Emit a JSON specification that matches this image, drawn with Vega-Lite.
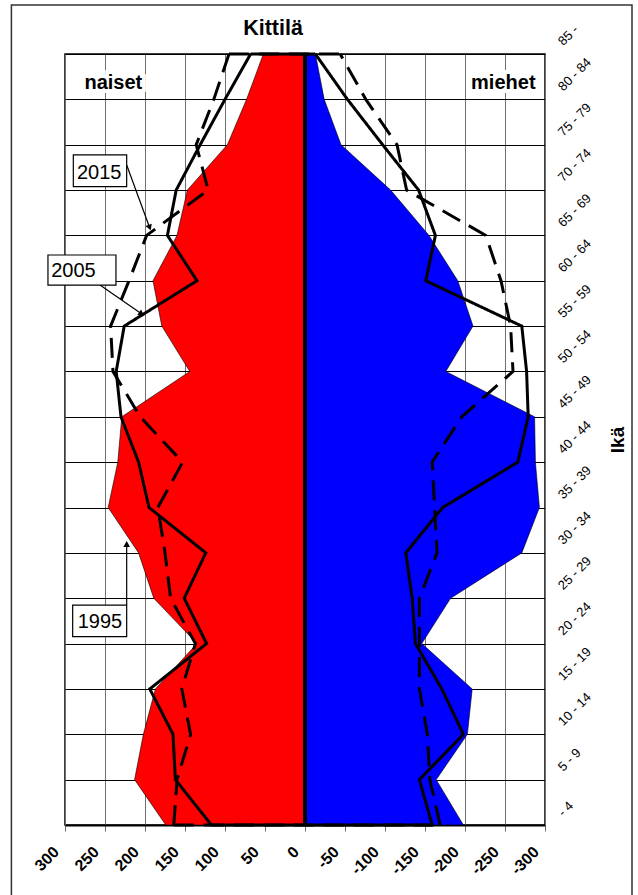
{
  "$schema": "https://vega.github.io/schema/vega-lite/v6.json",
  "width": 480,
  "height": 771,
  "autosize": {"type": "none"},
  "padding": {"left": 65, "top": 54, "right": 93, "bottom": 70},
  "background": "white",
  "title": {"text": "Kittilä", "fontSize": 21.5, "fontWeight": "bold", "font": "Liberation Sans", "color": "#000", "anchor": "middle", "frame": "group", "dx": -32, "dy": 21, "baseline": "alphabetic", "offset": -31},
  "config": {
    "font": "Liberation Sans",
    "view": {"stroke": "#000", "strokeWidth": 1.5}
  },
  "datasets": {
    "pop": [
      {"year": 1995, "sex": "naiset", "age": 0, "value": 174},
      {"year": 1995, "sex": "naiset", "age": 5, "value": 213},
      {"year": 1995, "sex": "naiset", "age": 10, "value": 202},
      {"year": 1995, "sex": "naiset", "age": 15, "value": 187},
      {"year": 1995, "sex": "naiset", "age": 20, "value": 135},
      {"year": 1995, "sex": "naiset", "age": 25, "value": 189},
      {"year": 1995, "sex": "naiset", "age": 30, "value": 208},
      {"year": 1995, "sex": "naiset", "age": 35, "value": 246},
      {"year": 1995, "sex": "naiset", "age": 40, "value": 234},
      {"year": 1995, "sex": "naiset", "age": 45, "value": 229},
      {"year": 1995, "sex": "naiset", "age": 50, "value": 144},
      {"year": 1995, "sex": "naiset", "age": 55, "value": 179},
      {"year": 1995, "sex": "naiset", "age": 60, "value": 190},
      {"year": 1995, "sex": "naiset", "age": 65, "value": 160},
      {"year": 1995, "sex": "naiset", "age": 70, "value": 147},
      {"year": 1995, "sex": "naiset", "age": 75, "value": 97},
      {"year": 1995, "sex": "naiset", "age": 80, "value": 73},
      {"year": 1995, "sex": "naiset", "age": 85, "value": 52},
      {"year": 1995, "sex": "miehet", "age": 0, "value": -198},
      {"year": 1995, "sex": "miehet", "age": 5, "value": -164},
      {"year": 1995, "sex": "miehet", "age": 10, "value": -203},
      {"year": 1995, "sex": "miehet", "age": 15, "value": -209},
      {"year": 1995, "sex": "miehet", "age": 20, "value": -146},
      {"year": 1995, "sex": "miehet", "age": 25, "value": -182},
      {"year": 1995, "sex": "miehet", "age": 30, "value": -271},
      {"year": 1995, "sex": "miehet", "age": 35, "value": -293},
      {"year": 1995, "sex": "miehet", "age": 40, "value": -288},
      {"year": 1995, "sex": "miehet", "age": 45, "value": -287},
      {"year": 1995, "sex": "miehet", "age": 50, "value": -176},
      {"year": 1995, "sex": "miehet", "age": 55, "value": -210},
      {"year": 1995, "sex": "miehet", "age": 60, "value": -191},
      {"year": 1995, "sex": "miehet", "age": 65, "value": -155},
      {"year": 1995, "sex": "miehet", "age": 70, "value": -107},
      {"year": 1995, "sex": "miehet", "age": 75, "value": -45},
      {"year": 1995, "sex": "miehet", "age": 80, "value": -24},
      {"year": 1995, "sex": "miehet", "age": 85, "value": -13},
      {"year": 2005, "sex": "naiset", "age": 0, "value": 117},
      {"year": 2005, "sex": "naiset", "age": 5, "value": 162},
      {"year": 2005, "sex": "naiset", "age": 10, "value": 165},
      {"year": 2005, "sex": "naiset", "age": 15, "value": 194},
      {"year": 2005, "sex": "naiset", "age": 20, "value": 123},
      {"year": 2005, "sex": "naiset", "age": 25, "value": 151},
      {"year": 2005, "sex": "naiset", "age": 30, "value": 124},
      {"year": 2005, "sex": "naiset", "age": 35, "value": 195},
      {"year": 2005, "sex": "naiset", "age": 40, "value": 208},
      {"year": 2005, "sex": "naiset", "age": 45, "value": 230},
      {"year": 2005, "sex": "naiset", "age": 50, "value": 236},
      {"year": 2005, "sex": "naiset", "age": 55, "value": 226},
      {"year": 2005, "sex": "naiset", "age": 60, "value": 135},
      {"year": 2005, "sex": "naiset", "age": 65, "value": 172},
      {"year": 2005, "sex": "naiset", "age": 70, "value": 161},
      {"year": 2005, "sex": "naiset", "age": 75, "value": 131},
      {"year": 2005, "sex": "naiset", "age": 80, "value": 100},
      {"year": 2005, "sex": "naiset", "age": 85, "value": 68},
      {"year": 2005, "sex": "miehet", "age": 0, "value": -159},
      {"year": 2005, "sex": "miehet", "age": 5, "value": -143},
      {"year": 2005, "sex": "miehet", "age": 10, "value": -198},
      {"year": 2005, "sex": "miehet", "age": 15, "value": -171},
      {"year": 2005, "sex": "miehet", "age": 20, "value": -138},
      {"year": 2005, "sex": "miehet", "age": 25, "value": -134},
      {"year": 2005, "sex": "miehet", "age": 30, "value": -126},
      {"year": 2005, "sex": "miehet", "age": 35, "value": -172},
      {"year": 2005, "sex": "miehet", "age": 40, "value": -266},
      {"year": 2005, "sex": "miehet", "age": 45, "value": -279},
      {"year": 2005, "sex": "miehet", "age": 50, "value": -277},
      {"year": 2005, "sex": "miehet", "age": 55, "value": -271},
      {"year": 2005, "sex": "miehet", "age": 60, "value": -151},
      {"year": 2005, "sex": "miehet", "age": 65, "value": -163},
      {"year": 2005, "sex": "miehet", "age": 70, "value": -142},
      {"year": 2005, "sex": "miehet", "age": 75, "value": -97},
      {"year": 2005, "sex": "miehet", "age": 80, "value": -53},
      {"year": 2005, "sex": "miehet", "age": 85, "value": -13},
      {"year": 2015, "sex": "naiset", "age": 0, "value": 164},
      {"year": 2015, "sex": "naiset", "age": 5, "value": 160},
      {"year": 2015, "sex": "naiset", "age": 10, "value": 143},
      {"year": 2015, "sex": "naiset", "age": 15, "value": 154},
      {"year": 2015, "sex": "naiset", "age": 20, "value": 137},
      {"year": 2015, "sex": "naiset", "age": 25, "value": 168},
      {"year": 2015, "sex": "naiset", "age": 30, "value": 175},
      {"year": 2015, "sex": "naiset", "age": 35, "value": 184},
      {"year": 2015, "sex": "naiset", "age": 40, "value": 153},
      {"year": 2015, "sex": "naiset", "age": 45, "value": 206},
      {"year": 2015, "sex": "naiset", "age": 50, "value": 240},
      {"year": 2015, "sex": "naiset", "age": 55, "value": 243},
      {"year": 2015, "sex": "naiset", "age": 60, "value": 220},
      {"year": 2015, "sex": "naiset", "age": 65, "value": 198},
      {"year": 2015, "sex": "naiset", "age": 70, "value": 121},
      {"year": 2015, "sex": "naiset", "age": 75, "value": 136},
      {"year": 2015, "sex": "naiset", "age": 80, "value": 114},
      {"year": 2015, "sex": "naiset", "age": 85, "value": 95},
      {"year": 2015, "sex": "miehet", "age": 0, "value": -169},
      {"year": 2015, "sex": "miehet", "age": 5, "value": -156},
      {"year": 2015, "sex": "miehet", "age": 10, "value": -153},
      {"year": 2015, "sex": "miehet", "age": 15, "value": -143},
      {"year": 2015, "sex": "miehet", "age": 20, "value": -143},
      {"year": 2015, "sex": "miehet", "age": 25, "value": -143},
      {"year": 2015, "sex": "miehet", "age": 30, "value": -165},
      {"year": 2015, "sex": "miehet", "age": 35, "value": -162},
      {"year": 2015, "sex": "miehet", "age": 40, "value": -159},
      {"year": 2015, "sex": "miehet", "age": 45, "value": -196},
      {"year": 2015, "sex": "miehet", "age": 50, "value": -260},
      {"year": 2015, "sex": "miehet", "age": 55, "value": -257},
      {"year": 2015, "sex": "miehet", "age": 60, "value": -245},
      {"year": 2015, "sex": "miehet", "age": 65, "value": -226},
      {"year": 2015, "sex": "miehet", "age": 70, "value": -127},
      {"year": 2015, "sex": "miehet", "age": 75, "value": -115},
      {"year": 2015, "sex": "miehet", "age": 80, "value": -76},
      {"year": 2015, "sex": "miehet", "age": 85, "value": -44}
    ],
    "notes": [
      {"label": "2015", "bx1": 289.6, "bx2": 222.9, "by1": 73.87, "by2": 70.37, "tx": 257.3, "ty": 71.2, "ax1": 222.9, "ay1": 72.76, "ax2": 194.6, "ay2": 65.96},
      {"label": "2005", "bx1": 321.3, "bx2": 236.3, "by1": 62.84, "by2": 59.53, "tx": 289.4, "ty": 60.38, "ax1": 256.3, "ay1": 59.53, "ax2": 205.3, "ay2": 56.41},
      {"label": "1995", "bx1": 290.4, "bx2": 222.9, "by1": 24.25, "by2": 20.76, "tx": 256.3, "ty": 21.68, "ax1": 222.9, "ay1": 24.25, "ax2": 222.9, "ay2": 30.87}
    ],
    "sexlabels": [
      {"label": "naiset", "x": 239.6, "y": 81.11},
      {"label": "miehet", "x": -247.9, "y": 81.11}
    ],
    "frame": [
      {"x1": 367, "x2": -408.75, "y1": 90.4, "y2": -10}
    ]
  },
  "encoding": {
    "y": {"type": "quantitative", "title": "Ikä", "scale": {"domain": [0, 85], "nice": false, "zero": false},
      "axis": {"orient": "right", "values": [0,5,10,15,20,25,30,35,40,45,50,55,60,65,70,75,80,85],
        "grid": true, "gridColor": "#000", "gridWidth": 1, "domain": true, "domainColor": "#707070", "domainWidth": 1,
        "ticks": false, "labelAngle": -45, "labelAlign": "left", "labelBaseline": "middle", "labelFontSize": 13,
        "labelColor": "#000", "labelPadding": 15, "labelOffset": -11, "labelFlush": false, "labelOverlap": false, "labelBound": false,
        "labelExpr": "datum.value == 0 ? '- 4' : datum.value == 85 ? '85 -' : datum.value + ' - ' + (datum.value + 4)",
        "titleFontSize": 19, "titleFontWeight": "bold", "titleColor": "#000", "titleAngle": -90, "titleBaseline": "top", "titlePadding": 15}},
    "x": {"type": "quantitative", "title": null, "scale": {"domain": [-300, 300], "reverse": true, "nice": false, "zero": false},
      "axis": {"values": [-300,-250,-200,-150,-100,-50,0,50,100,150,200,250,300],
        "grid": true, "gridColor": "#707070", "gridWidth": 1, "domain": true, "domainColor": "#000", "domainWidth": 2,
        "ticks": true, "tickSize": 6, "tickColor": "#707070", "tickWidth": 1,
        "labelAngle": -45, "labelAlign": "right", "labelBaseline": "middle", "labelFontSize": 16, "labelFontWeight": "bold",
        "labelColor": "#000", "labelPadding": 18, "labelOffset": -9, "labelFlush": false, "labelOverlap": false, "labelBound": false,
        "labelExpr": "'' + datum.value"}}
  },
  "layer": [
    {
      "data": {"name": "pop"},
      "transform": [{"filter": "datum.year == 1995"}],
      "mark": {"type": "area", "orient": "horizontal", "stroke": "#000", "strokeWidth": 0.6},
      "encoding": {
        "y": {"field": "age"},
        "x": {"field": "value", "stack": null},
        "x2": {"datum": 0},
        "color": {"field": "sex", "type": "nominal", "scale": {"domain": ["naiset", "miehet"], "range": ["#ff0000", "#0000ff"]}, "legend": null}
      }
    },
    {
      "data": {"name": "pop"},
      "transform": [{"filter": "datum.year != 1995"}],
      "mark": {"type": "line", "color": "#000", "strokeWidth": 3},
      "encoding": {
        "y": {"field": "age"},
        "x": {"field": "value"},
        "detail": {"field": "sex", "type": "nominal"},
        "order": {"field": "age", "type": "quantitative"},
        "strokeDash": {"field": "year", "type": "nominal", "scale": {"domain": [2005, 2015], "range": [[1, 0], [20, 10]]}, "legend": null}
      }
    },
    {
      "data": {"name": "pop"},
      "transform": [
        {"filter": "datum.year != 1995 && (datum.age == 0 || datum.age == 85)"},
        {"pivot": "sex", "value": "value", "groupby": ["year", "age"]}
      ],
      "mark": {"type": "rule", "color": "#000", "strokeWidth": 3},
      "encoding": {
        "y": {"field": "age"},
        "x": {"field": "naiset"},
        "x2": {"field": "miehet"},
        "strokeDash": {"field": "year", "type": "nominal", "scale": {"domain": [2005, 2015], "range": [[1, 0], [20, 10]]}, "legend": null}
      }
    },
    {
      "data": {"name": "pop"},
      "transform": [{"filter": "datum.year == 1995 && datum.sex == 'naiset' && datum.age == 0"}],
      "mark": {"type": "rule", "color": "#000", "strokeWidth": 4},
      "encoding": {
        "x": {"datum": 0},
        "y": {"datum": 0},
        "y2": {"datum": 85}
      }
    },
    {
      "data": {"name": "notes"},
      "mark": {"type": "rule", "color": "#000", "strokeWidth": 1.2},
      "encoding": {
        "x": {"field": "ax1"},
        "x2": {"field": "ax2"},
        "y": {"field": "ay1"},
        "y2": {"field": "ay2"}
      }
    },
    {
      "data": {"name": "notes"},
      "mark": {"type": "rect", "fill": "#fff", "stroke": "#000", "strokeWidth": 1.2},
      "encoding": {
        "x": {"field": "bx1"},
        "x2": {"field": "bx2"},
        "y": {"field": "by1"},
        "y2": {"field": "by2"}
      }
    },
    {
      "data": {"name": "notes"},
      "mark": {"type": "text", "fontSize": 20, "align": "center", "baseline": "alphabetic", "color": "#000"},
      "encoding": {
        "x": {"field": "tx"},
        "y": {"field": "ty"},
        "text": {"field": "label"}
      }
    },
    {
      "data": {"name": "notes"},
      "transform": [{"filter": "datum.label == '2015'"}],
      "mark": {"type": "point", "shape": "triangle", "filled": true, "color": "#000", "opacity": 1, "size": 45, "angle": 160},
      "encoding": {
        "x": {"field": "ax2"},
        "y": {"field": "ay2"}
      }
    },
    {
      "data": {"name": "notes"},
      "transform": [{"filter": "datum.label == '2005'"}],
      "mark": {"type": "point", "shape": "triangle", "filled": true, "color": "#000", "opacity": 1, "size": 45, "angle": 125},
      "encoding": {
        "x": {"field": "ax2"},
        "y": {"field": "ay2"}
      }
    },
    {
      "data": {"name": "notes"},
      "transform": [{"filter": "datum.label == '1995'"}],
      "mark": {"type": "point", "shape": "triangle", "filled": true, "color": "#000", "opacity": 1, "size": 45, "angle": 0},
      "encoding": {
        "x": {"field": "ax2"},
        "y": {"field": "ay2"}
      }
    },
    {
      "data": {"name": "sexlabels"},
      "mark": {"type": "text", "fontSize": 20, "fontWeight": "bold", "align": "center", "baseline": "alphabetic", "color": "#fff", "stroke": "#fff", "strokeWidth": 8},
      "encoding": {
        "x": {"field": "x"},
        "y": {"field": "y"},
        "text": {"field": "label"}
      }
    },
    {
      "data": {"name": "sexlabels"},
      "mark": {"type": "text", "fontSize": 20, "fontWeight": "bold", "align": "center", "baseline": "alphabetic", "color": "#000"},
      "encoding": {
        "x": {"field": "x"},
        "y": {"field": "y"},
        "text": {"field": "label"}
      }
    },
    {
      "data": {"name": "frame"},
      "mark": {"type": "rect", "fill": null, "fillOpacity": 0, "stroke": "#333", "strokeWidth": 1.5},
      "encoding": {
        "x": {"field": "x1"},
        "x2": {"field": "x2"},
        "y": {"field": "y1"},
        "y2": {"field": "y2"}
      }
    }
  ]
}
